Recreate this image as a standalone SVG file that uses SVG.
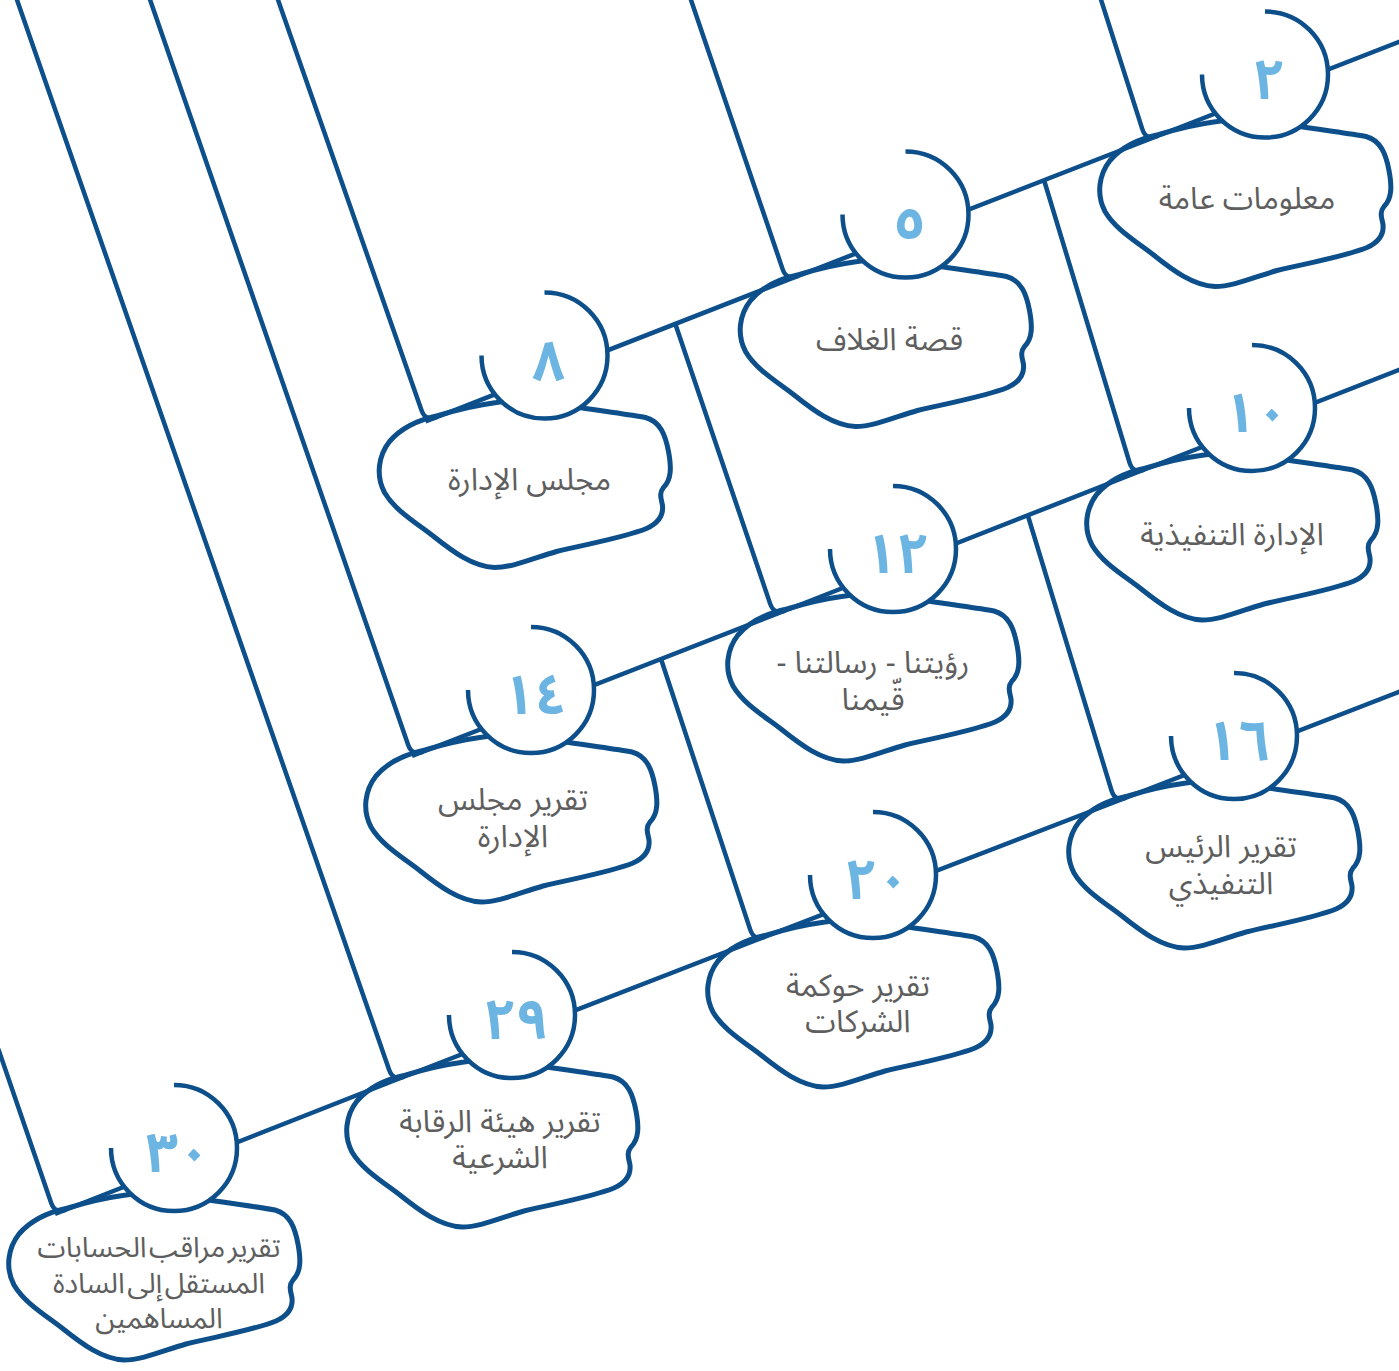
<svg xmlns="http://www.w3.org/2000/svg" xmlns:xlink="http://www.w3.org/1999/xlink" width="1399" height="1371" viewBox="0 0 1399 1371">
<style>
.ln{fill:none;stroke:#0d4f8a;stroke-width:4.5;stroke-linecap:butt;stroke-linejoin:round}
.bl{fill:none;stroke:#0d4f8a;stroke-width:5}
.ring{fill:none;stroke:#0d4f8a;stroke-width:4.5}
.disk{fill:#ffffff;stroke:none}
.num{font-family:"Noto Sans Arabic","Noto Sans","DejaVu Sans",sans-serif;font-weight:bold;font-size:56px;fill:#6cb5e3;text-anchor:middle;letter-spacing:4px}
.lbl{font-family:"Noto Sans Arabic","Noto Sans","DejaVu Sans",sans-serif;font-size:31px;fill:#5e5e5e;text-anchor:middle}
.sm{font-size:28.5px}
</style>
<defs>
<path id="blob" d="M -106,60 C -90,55 -70,50 -48,47 C -20,42 10,46 35,52 C 60,56 85,59 101,62 C 116,66 121,80 124,96 C 127,112 127,124 119,132 C 114,138 117,144 118,150 C 119,160 113,168 102,173 C 80,182 45,188 12,196 C -12,203 -32,212 -50,212 C -72,211 -92,196 -112,180 C -132,165 -150,154 -160,137 C -169,120 -166,100 -155,86 C -143,72 -125,64 -106,60 Z"/>
<path id="ring" d="M 0,-63 A 63 63 0 1 1 -63,0"/>
</defs>
<rect width="1399" height="1371" fill="#ffffff"/>
<g id="connectors">
<path class="ln" d="M 15.3,-5 L 389.1,1069.7 Q 393,1081 404.2,1076.6"/>
<path class="ln" d="M 148.4,-5 L 408.1,744.7 Q 412,756 423.2,751.6"/>
<path class="ln" d="M 276.3,-5 L 421.5,410.2 Q 425.5,421.5 436.7,417.1"/>
<path class="ln" d="M 689.3,-5 L 782.6,269.1 Q 786.5,280.5 797.7,276.1"/>
<path class="ln" d="M 1099.5,-5 L 1142.3,129.1 Q 1146,140.5 1157.2,136.1"/>
<path class="ln" d="M -1.7,1049 L 51.1,1202.7 Q 55,1214 66.2,1209.6"/>
<path class="ln" d="M 675,323 L 770.1,603.6 Q 774,615 785.2,610.6"/>
<path class="ln" d="M 1044,180 L 1129.5,462.5 Q 1133,474 1144.2,469.6"/>
<path class="ln" d="M 661,659 L 750.2,929.6 Q 754,941 765.2,936.6"/>
<path class="ln" d="M 1028,516 L 1111.5,790.5 Q 1115,802 1126.2,797.6"/>
<path class="ln" d="M 425.5,421.5 L 786.5,280.5 L 1146,140.5 L 1404,40"/>
<path class="ln" d="M 412,756 L 774,615 L 1133,474 L 1404,368"/>
<path class="ln" d="M 55,1214 L 393,1081 L 754,941 L 1115,802 L 1404,690"/>
</g>
<g id="node-2" transform="translate(1265,74.5)">
<use xlink:href="#blob" class="bl"/><circle class="disk" r="63"/><use xlink:href="#ring" class="ring"/>
<text class="num" x="4" y="24">٢</text>
<text class="lbl" x="-18" y="134" direction="rtl">معلومات عامة</text>
</g>
<g id="node-5" transform="translate(905.5,214.5)">
<use xlink:href="#blob" class="bl"/><circle class="disk" r="63"/><use xlink:href="#ring" class="ring"/>
<text class="num" x="4" y="24">٥</text>
<text class="lbl" x="-16" y="135" direction="rtl">قصة الغلاف</text>
</g>
<g id="node-8" transform="translate(544.5,355.5)">
<use xlink:href="#blob" class="bl"/><circle class="disk" r="63"/><use xlink:href="#ring" class="ring"/>
<text class="num" x="4" y="24">٨</text>
<text class="lbl" x="-15" y="134" direction="rtl">مجلس الإدارة</text>
</g>
<g id="node-10" transform="translate(1252,408)">
<use xlink:href="#blob" class="bl"/><circle class="disk" r="63"/><use xlink:href="#ring" class="ring"/>
<text class="num" x="4" y="24">١٠</text>
<text class="lbl" x="-20" y="137" direction="rtl">الإدارة التنفيذية</text>
</g>
<g id="node-12" transform="translate(893,549)">
<use xlink:href="#blob" class="bl"/><circle class="disk" r="63"/><use xlink:href="#ring" class="ring"/>
<text class="num" x="4" y="24">١٢</text>
<text class="lbl" x="-20" y="124" direction="rtl">رؤيتنا - رسالتنا -</text>
<text class="lbl" x="-20" y="161" direction="rtl">قّيمنا</text>
</g>
<g id="node-14" transform="translate(531,690)">
<use xlink:href="#blob" class="bl"/><circle class="disk" r="63"/><use xlink:href="#ring" class="ring"/>
<text class="num" x="4" y="24">١٤</text>
<text class="lbl" x="-18" y="120" direction="rtl">تقرير مجلس</text>
<text class="lbl" x="-18" y="157" direction="rtl">الإدارة</text>
</g>
<g id="node-16" transform="translate(1234,736)">
<use xlink:href="#blob" class="bl"/><circle class="disk" r="63"/><use xlink:href="#ring" class="ring"/>
<text class="num" x="4" y="24">١٦</text>
<text class="lbl" x="-13" y="121" direction="rtl">تقرير الرئيس</text>
<text class="lbl" x="-13" y="158" direction="rtl">التنفيذي</text>
</g>
<g id="node-20" transform="translate(873,875)">
<use xlink:href="#blob" class="bl"/><circle class="disk" r="63"/><use xlink:href="#ring" class="ring"/>
<text class="num" x="4" y="24">٢٠</text>
<text class="lbl" x="-15" y="121" direction="rtl">تقرير حوكمة</text>
<text class="lbl" x="-15" y="157" direction="rtl">الشركات</text>
</g>
<g id="node-29" transform="translate(512,1015)">
<use xlink:href="#blob" class="bl"/><circle class="disk" r="63"/><use xlink:href="#ring" class="ring"/>
<text class="num" x="4" y="24">٢٩</text>
<text class="lbl" x="-12" y="117" direction="rtl">تقرير هيئة الرقابة</text>
<text class="lbl" x="-12" y="153" direction="rtl">الشرعية</text>
</g>
<g id="node-30" transform="translate(174,1148)">
<use xlink:href="#blob" class="bl"/><circle class="disk" r="63"/><use xlink:href="#ring" class="ring"/>
<text class="num" x="4" y="24">٣٠</text>
<text class="lbl sm" x="-15" y="109" direction="rtl" word-spacing="-5">تقرير مراقب الحسابات</text>
<text class="lbl sm" x="-15" y="145" direction="rtl" word-spacing="-5">المستقل إلى السادة</text>
<text class="lbl sm" x="-15" y="180" direction="rtl">المساهمين</text>
</g>
</svg>
